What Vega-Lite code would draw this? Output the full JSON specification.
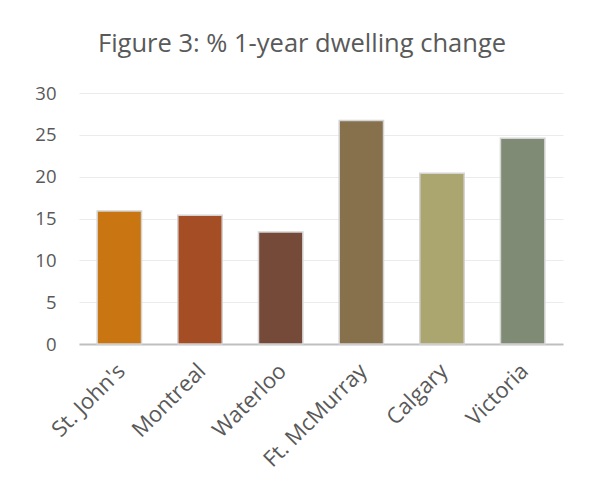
{
  "$schema": "https://vega.github.io/schema/vega-lite/v6.json",
  "autosize": {"type": "none"},
  "width": 484,
  "height": 251,
  "padding": {"left": 79, "top": 93, "right": 27, "bottom": 151},
  "background": "white",
  "title": {
    "text": "Figure 3: % 1-year dwelling change",
    "font": "Open Sans",
    "fontSize": 25.5,
    "fontWeight": "normal",
    "color": "#595959",
    "anchor": "middle",
    "dx": -19,
    "offset": 27
  },
  "data": {
    "values": [
      {"city": "St. John's", "change": 15.9, "color": "#C97512"},
      {"city": "Montreal", "change": 15.4, "color": "#A54E25"},
      {"city": "Waterloo", "change": 13.4, "color": "#754A38"},
      {"city": "Ft. McMurray", "change": 26.7, "color": "#87714C"},
      {"city": "Calgary", "change": 20.4, "color": "#ABA56F"},
      {"city": "Victoria", "change": 24.6, "color": "#7F8B74"}
    ]
  },
  "mark": {"type": "bar", "stroke": "#d4d4d4", "strokeWidth": 1.5},
  "encoding": {
    "x": {
      "field": "city",
      "type": "nominal",
      "sort": null,
      "title": null,
      "scale": {"paddingInner": 0.45, "paddingOuter": 0.225},
      "axis": {
        "labelAngle": -45,
        "labelFont": "Open Sans",
        "labelFontSize": 22,
        "labelColor": "#595959",
        "labelPadding": 16,
        "labelOffset": -5,
        "ticks": false,
        "domainColor": "#bfbfbf",
        "domainWidth": 2
      }
    },
    "y": {
      "field": "change",
      "type": "quantitative",
      "title": null,
      "scale": {"domain": [0, 30], "nice": false},
      "axis": {
        "values": [0, 5, 10, 15, 20, 25, 30],
        "labelFont": "Open Sans",
        "labelFontSize": 18.5,
        "labelColor": "#595959",
        "labelPadding": 23,
        "ticks": false,
        "domain": false,
        "gridColor": "#ebebeb",
        "gridWidth": 1.2
      }
    },
    "color": {"field": "color", "type": "nominal", "scale": null, "legend": null}
  },
  "config": {"view": {"stroke": null}}
}
